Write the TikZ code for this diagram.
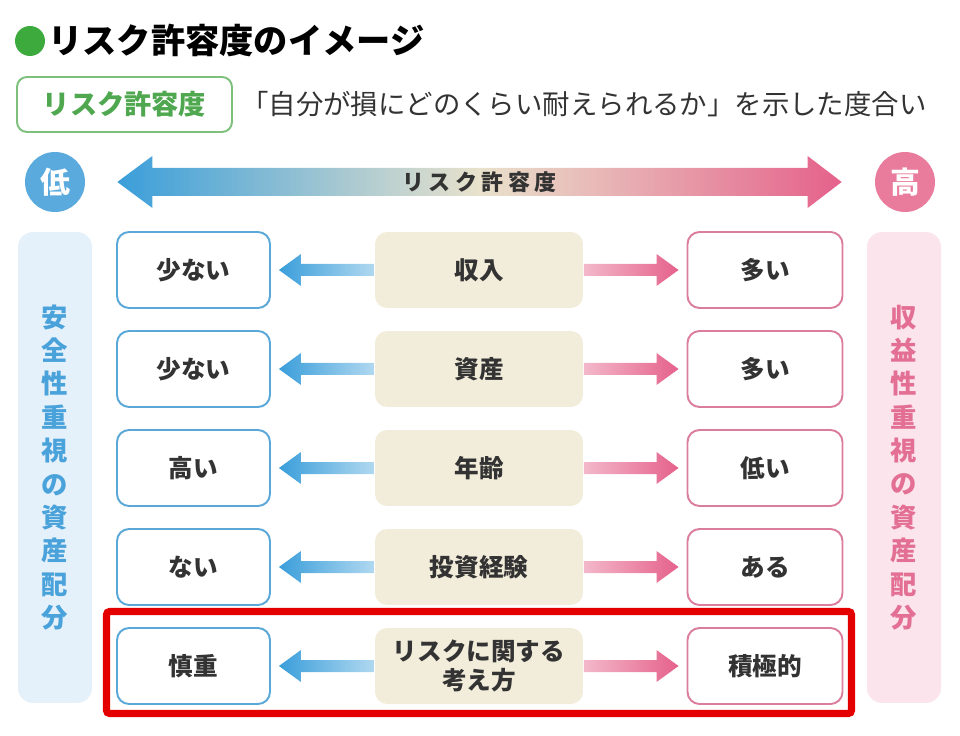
\documentclass[tikz,border=0pt]{standalone}
\usepackage{fontspec}
\setmainfont{Noto Sans CJK JP}
\usetikzlibrary{calc,positioning}
\definecolor{titlegreen}{HTML}{3DAA3D}
\definecolor{taggreen}{HTML}{7CC07C}
\definecolor{tagtext}{HTML}{4FA84F}
\definecolor{lowblue}{HTML}{3A9EDA}
\definecolor{lowcirc}{HTML}{5AAADD}
\definecolor{lowline}{HTML}{5AA8D8}
\definecolor{lowpanel}{HTML}{E4F0FA}
\definecolor{lowtext}{HTML}{4AA2DA}
\definecolor{highpink}{HTML}{E5618B}
\definecolor{highcirc}{HTML}{E97C9C}
\definecolor{highline}{HTML}{DB7D9E}
\definecolor{highpanel}{HTML}{FBE4EB}
\definecolor{hightext}{HTML}{E36F95}
\definecolor{midbeige}{HTML}{F2ECDA}
\definecolor{barbeige}{HTML}{E9E2CC}
\definecolor{txtgray}{HTML}{333333}
\definecolor{framered}{HTML}{E50000}
\begin{document}
\begin{tikzpicture}[x=0.02cm,y=-0.02cm,
  lowbox/.style={draw=lowline, line width=1.1pt, fill=white, rounded corners=0.24cm,
    minimum width=3.06cm, minimum height=1.52cm, text=txtgray,
    font=\fontsize{14}{17}\selectfont\bfseries},
  highbox/.style={lowbox, draw=highline, minimum width=3.1cm},
  factor/.style={lowbox, draw=none, fill=midbeige, minimum width=4.16cm, align=center},
  panel/.style={rounded corners=0.3cm, minimum width=1.48cm, minimum height=9.42cm,
    align=center, font=\fontsize{15}{19}\selectfont\bfseries},
  endcirc/.style={circle, minimum size=1.2cm, inner sep=0, text=white,
    font=\fontsize{17}{17}\selectfont\bfseries}]
\useasboundingbox (0,0) rectangle (960,736);
% title and definition
\node[circle, fill=titlegreen, minimum size=0.6cm, inner sep=0] (dot) at (30,41) {};
\node[anchor=west, inner sep=0, font=\fontsize{19.5}{22}\selectfont\bfseries] (title) at (48,40) {リスク許容度のイメージ};
\node[draw=taggreen, line width=1.1pt, rounded corners=0.2cm, minimum width=4.3cm, minimum height=1.1cm,
  text=tagtext, font=\fontsize{15.5}{18}\selectfont\bfseries] (tag) at (124.5,104.5) {リスク許容度};
\node[right=0.16cm of tag, inner sep=0, text=txtgray, font=\fontsize{15.6}{18}\selectfont] (quote)
  {「自分が損にどのくらい耐えられるか」を示した度合い};
% scale arrow
\node[endcirc, fill=lowcirc] (lo) at (55,182) {低};
\node[endcirc, fill=highcirc] (hi) at (905,182) {高};
\coordinate (bl) at ($(lo.east)+(32,0)$);
\coordinate (br) at ($(hi.west)+(-33,0)$);
\shade[left color=lowblue, right color=highpink, middle color=barbeige]
  (bl) -- ($(bl)+(35,-26)$) -- ($(bl)+(35,-14)$) -- ($(br)+(-34,-14)$) -- ($(br)+(-34,-26)$)
  -- (br) -- ($(br)+(-34,26)$) -- ($(br)+(-34,14)$) -- ($(bl)+(35,14)$) -- ($(bl)+(35,26)$) -- cycle;
\node[text=txtgray, font=\fontsize{12.5}{14}\selectfont\bfseries\addfontfeature{LetterSpace=20}] (scale)
  at ($(bl)!0.5!(br)$) {リスク許容度};
% side panels
\node[panel, fill=lowpanel, text=lowtext] (safe) at (55,467.5) {安\\全\\性\\重\\視\\の\\資\\産\\配\\分};
\node[panel, fill=highpanel, text=hightext] (gain) at (904,467.5) {収\\益\\性\\重\\視\\の\\資\\産\\配\\分};
% rows
\foreach \i/\lo/\mi/\hi in {1/少ない/収入/多い,2/少ない/資産/多い,3/高い/年齢/低い,4/ない/投資経験/ある,5/慎重/{リスクに関する\\考え方}/積極的}{
  \node[factor] (m\i) at (479,{270+99*(\i-1)}) {\mi};
  \node[lowbox] (l\i) at (193.5,{270+99*(\i-1)}) {\lo};
  \node[highbox] (h\i) at (765,{270+99*(\i-1)}) {\hi};
  \coordinate (lt) at ($(l\i.east)+(8,0)$);
  \coordinate (rt) at ($(h\i.west)+(-8,0)$);
  \shade[left color=lowblue, right color=lowblue!40]
    (lt) -- ($(lt)+(22,-16)$) -- ($(lt)+(22,-6)$) -- ($(m\i.west)+(0,-6)$)
    -- ($(m\i.west)+(0,6)$) -- ($(lt)+(22,6)$) -- ($(lt)+(22,16)$) -- cycle;
  \shade[left color=highpink!45, right color=highpink]
    ($(m\i.east)+(0,-6)$) -- ($(rt)+(-22,-6)$) -- ($(rt)+(-22,-16)$) -- (rt)
    -- ($(rt)+(-22,16)$) -- ($(rt)+(-22,6)$) -- ($(m\i.east)+(0,6)$) -- cycle;
}
% highlight
\draw[framered, line width=4pt, rounded corners=0.06cm] (106.5,611.5) rectangle (851.5,713.5);
\end{tikzpicture}
\end{document}
